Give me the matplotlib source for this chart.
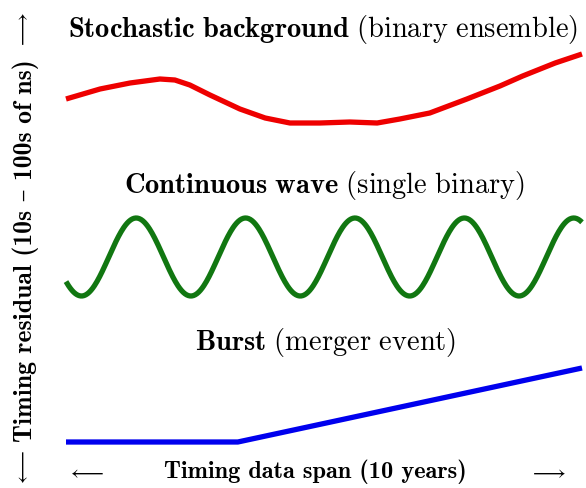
import matplotlib
matplotlib.use("Agg")
import matplotlib.pyplot as plt
import numpy as np

plt.rcParams['mathtext.fontset'] = 'cm'

# time axis in years (data span 0-10), residuals in arbitrary plot units
red_t = [0.0, 0.66, 1.24, 1.82, 2.11, 2.40, 2.79, 3.37, 3.86, 4.34,
         4.92, 5.50, 6.03, 6.47, 7.05, 7.77, 8.41, 8.85, 9.48, 10.0]
red_y = [389, 399, 405, 409, 408, 403, 393, 379, 370, 365,
         365, 366, 365, 369, 375, 389, 402, 412, 425, 434]

cw_amp = 39          # half peak-to-trough height
cw_period = 2.12     # years between crests
cw_first_peak = 1.36 # year of first crest
cw_level = 231

burst_t = [0.0, 3.33, 10.0]
burst_y = [46, 46, 120]

bold = ['cmb10', 'DejaVu Serif']

fig = plt.figure(figsize=(5.86, 4.89), dpi=100)
ax = fig.add_axes([0, 0, 1, 1])
ax.set_xlim(-66 / 51.6, 10 + 4 / 51.6)
ax.set_ylim(0, 489)
ax.axis('off')

ax.plot(red_t, red_y, color='#ee0000', lw=3.8, solid_capstyle='butt')

t = np.linspace(0, 10, 600)
cw_y = cw_level + cw_amp * np.cos(2 * np.pi * (t - cw_first_peak) / cw_period)
ax.plot(t, cw_y, color='#117711', lw=3.8, solid_capstyle='butt')

ax.plot(burst_t, burst_y, color='#0000ee', lw=3.8, solid_capstyle='butt')

fs = 20.5
fig.text(0.551, 0.939, r'$\mathbf{Stochastic\ background}\ \mathrm{(binary\ ensemble)}$',
         ha='center', va='center', fontsize=fs)
fig.text(0.553, 0.620, r'$\mathbf{Continuous\ wave}\ \mathrm{(single\ binary)}$',
         ha='center', va='center', fontsize=fs)
fig.text(0.555, 0.299, r'$\mathbf{Burst}\ \mathrm{(merger\ event)}$',
         ha='center', va='center', fontsize=fs)

fig.text(0.539, 0.035, 'Timing data span (10 years)',
         ha='center', va='center', fontsize=17.5, family=bold)
fig.text(0.147, 0.035, r'$\longleftarrow$', ha='center', va='center', fontsize=15)
fig.text(0.935, 0.035, r'$\longrightarrow$', ha='center', va='center', fontsize=15)

fig.text(0.044, 0.487, 'Timing residual (10s \u2013 100s of ns)',
         ha='center', va='center', fontsize=18.5, rotation=90, family=bold)
fig.text(0.038, 0.938, r'$\longrightarrow$', ha='center', va='center', fontsize=15, rotation=90)
fig.text(0.038, 0.042, r'$\longleftarrow$', ha='center', va='center', fontsize=15, rotation=90)

fig.savefig('out.png', dpi=100, facecolor='white')
